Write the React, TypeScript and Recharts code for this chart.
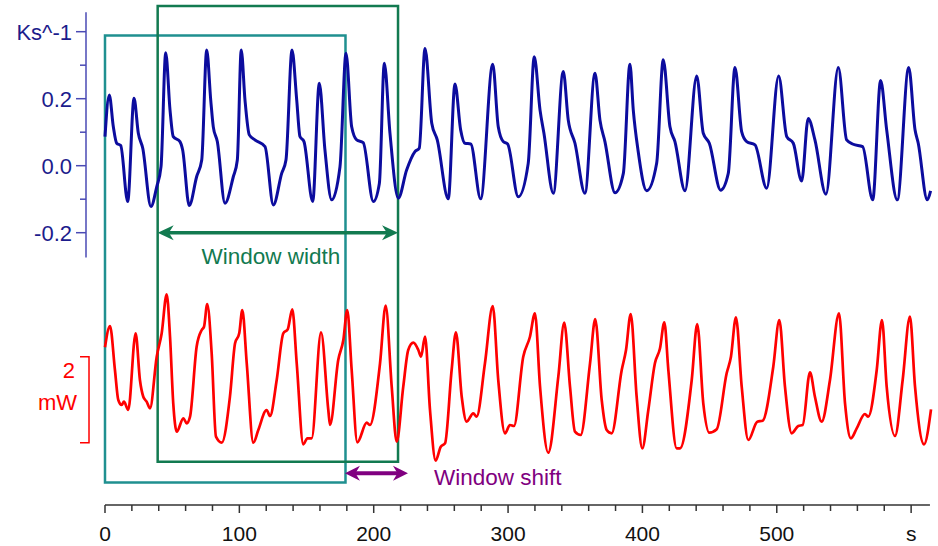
import { LineChart, Line, XAxis, YAxis, ReferenceLine, ReferenceArea } from "recharts";

// temperature signal (Ks^-1), [time s, value]
const BLUE_SERIES: [number, number][] = [
  [0, 0.087], [3.2, 0.211], [6.2, 0.116], [8.7, 0.067], [11.7, 0.06], [16.9, -0.107],
  [21.6, 0.201], [24.8, 0.097], [28.1, 0.052], [34.2, -0.122], [38.5, -0.063], [41.7, -0.003],
  [45.2, 0.337], [48.4, 0.166], [50.8, 0.087], [55.8, 0.072], [57.8, 0.047], [62.7, -0.119],
  [68.2, -0.033], [72.0, 0.017], [75.7, 0.345], [78.7, 0.196], [80.6, 0.116], [83.6, 0.072],
  [89.3, -0.112], [95.5, -0.033], [98.5, 0.017], [101.4, 0.345], [104.2, 0.196], [107.4, 0.092],
  [111.6, 0.077], [119.1, 0.057], [125.3, -0.117], [131.5, -0.023], [134.7, 0.017], [139.2, 0.345],
  [142.7, 0.196], [145.1, 0.087], [148.1, 0.072], [154.6, -0.107], [159.5, 0.246], [163.7, 0.047],
  [168.7, -0.102], [174.9, -0.003], [179.4, 0.336], [183.6, 0.116], [187.3, 0.077], [192.2, 0.069],
  [199.7, -0.107], [204.2, -0.053], [207.9, 0.306], [212.1, 0.097], [218.3, -0.097], [224.5, -0.013],
  [230.7, 0.042], [233.9, 0.052], [238.2, 0.35], [243.2, 0.127], [247.3, 0.077], [255.5, -0.099],
  [260.5, 0.244], [264.7, 0.107], [267.9, 0.067], [272.2, 0.065], [279.6, -0.099], [288.6, 0.303],
  [292.7, 0.116], [296.4, 0.072], [299.7, 0.065], [307.6, -0.093], [315.0, 0.007], [319.5, 0.325],
  [323.8, 0.166], [326.7, 0.097], [333.7, -0.082], [341.1, 0.281], [344.8, 0.136], [349.8, 0.067],
  [357.2, -0.082], [364.7, 0.276], [368.4, 0.136], [372.1, 0.072], [379.6, -0.081], [385.8, -0.023],
  [390.7, 0.303], [393.2, 0.166], [396.7, 0.047], [403.2, -0.075], [410.6, 0.007], [415.5, 0.316],
  [420.5, 0.116], [424.2, 0.072], [431.7, -0.075], [440.4, 0.268], [445.3, 0.097], [449.8, 0.067],
  [458.2, -0.073], [463.9, -0.023], [468.9, 0.293], [473.9, 0.101], [477.6, 0.072], [483.8, 0.062],
  [492.5, -0.067], [501.4, 0.268], [507.4, 0.087], [512.3, 0.067], [518.5, -0.046], [523.4, 0.141],
  [528.4, 0.077], [536.6, -0.085], [545.8, 0.293], [552.0, 0.077], [556.9, 0.064], [563.9, 0.057],
  [571.4, -0.102], [577.3, 0.254], [581.8, 0.107], [589.7, -0.102], [598.2, 0.293], [602.9, 0.107],
  [605.3, 0.067], [612.0, -0.102], [614.5, -0.075],
];

// power signal (mW, arbitrary offset), [time s, value]
const RED_SERIES: [number, number][] = [
  [0, 2.621], [3.7, 3.116], [7.4, 2.093], [9.9, 1.395], [12.4, 1.279], [14.1, 1.356], [17.3, 1.163],
  [22.8, 2.947], [26.0, 1.86], [28.5, 1.472], [31.0, 1.356], [33.5, 1.202], [38.5, 2.402], [42.2, 2.947],
  [45.9, 3.853], [48.4, 2.867], [50.8, 1.319], [53.4, 0.658], [58.3, 0.97], [60.8, 0.853], [63.3, 1.007],
  [68.2, 2.635], [72.0, 3.023], [73.7, 3.1], [76.1, 3.628], [79.4, 2.481], [82.6, 0.542], [86.9, 0.402],
  [93.0, 1.472], [96.8, 2.714], [99.9, 2.947], [102.2, 3.488], [105.5, 2.249], [110.4, 0.402],
  [114.1, 0.698], [120.3, 1.163], [122.8, 1.023], [127.8, 1.86], [132.7, 2.947], [136.0, 3.04],
  [139.4, 3.505], [142.7, 2.249], [147.6, 0.365], [150.6, 0.505], [153.8, 0.505], [160.8, 2.97],
  [166.2, 1.163], [167.5, 0.814], [173.6, 2.326], [177.4, 2.791], [180.3, 3.488], [183.6, 2.093],
  [187.8, 0.412], [194.8, 0.867], [197.2, 0.814], [204.7, 2.249], [208.9, 3.588], [213.4, 1.705],
  [217.1, 0.426], [222.0, 1.705], [225.7, 2.558], [229.5, 2.728], [233.2, 2.558], [235.2, 2.402],
  [238.2, 2.867], [241.9, 1.163], [246.1, -0.016], [249.9, 0.309], [253.1, 0.388], [258.0, 2.093],
  [261.2, 2.97], [265.5, 1.472], [269.2, 0.891], [274.1, 1.086], [276.6, 1.007], [282.8, 2.249],
  [288.6, 3.581], [292.7, 1.86], [297.7, 0.621], [301.4, 0.814], [304.4, 0.791], [311.3, 2.402],
  [316.3, 2.867], [320.0, 3.412], [323.8, 1.705], [329.9, 0.17], [337.4, 1.937], [341.8, 3.193],
  [346.1, 1.705], [349.8, 0.658], [354.0, 0.581], [361.0, 2.249], [364.9, 3.279], [369.7, 1.395],
  [373.4, 0.698], [377.1, 0.621], [384.6, 2.093], [387.8, 2.558], [391.3, 3.395], [395.7, 1.472],
  [399.9, 0.272], [404.4, 1.163], [409.3, 2.249], [413.1, 2.598], [416.3, 3.202], [419.3, 2.093],
  [425.5, 0.272], [428.0, 0.272], [436.7, 1.86], [440.8, 3.163], [445.3, 1.319], [449.8, 0.635],
  [455.3, 0.714], [462.7, 2.016], [465.9, 2.402], [469.6, 3.319], [473.9, 1.705], [478.8, 0.465],
  [485.5, 0.891], [489.5, 0.914], [497.4, 2.17], [501.9, 3.256], [506.1, 1.705], [511.1, 0.621],
  [516.0, 0.791], [519.3, 0.814], [524.7, 2.04], [528.4, 1.472], [533.4, 0.891], [539.6, 1.86],
  [546.3, 3.412], [550.8, 1.319], [555.2, 0.505], [559.5, 0.737], [565.6, 1.07], [568.1, 1.007],
  [574.4, 2.093], [578.3, 3.256], [581.8, 1.705], [588.0, 0.558], [593.7, 1.86], [599.1, 3.333],
  [602.9, 1.705], [609.6, 0.365], [614.8, 1.179],
];

const X_TICKS = [0, 20, 40, 60, 80, 100, 120, 140, 160, 180, 200, 220, 240, 260, 280, 300, 320, 340, 360, 380, 400, 420, 440, 460, 480, 500, 520, 540, 560, 580, 600];
const BLUE_TICKS = [-0.2, -0.1, 0, 0.1, 0.2, 0.3, 0.4];
const BLUE_TICK_LABELS = ["-0.2", "", "0.0", "", "0.2", "", "Ks^-1"];

const FIRST_WINDOW = [0, 179];
const SECOND_WINDOW = [39.2, 218.1];
const SHIFT = [178.6, 225.5];
const SCALE_BAR = [0.4, 2.4]; // 2 mW

const X_DOMAIN = [-14.14, 620];
const BLUE_DOMAIN = [-1.0128, 0.4946];
const RED_DOMAIN = [-1.0465, 10.698];

const FONT = "'Liberation Sans', Arial, sans-serif";
const BLUE = "#0c0c9e";
const RED = "#ff0000";
const TEAL = "#1f9090";
const GREEN = "#127a50";
const PURPLE = "#800080";

const blueData = BLUE_SERIES.map(([t, v]) => ({ t, v }));
const redData = RED_SERIES.map(([t, v]) => ({ t, v }));

const XTick = (props: any) => {
  const { x, y, payload } = props;
  const v = payload.value;
  const major = v % 100 === 0;
  return (
    <g>
      <line x1={x} y1={y} x2={x} y2={y + (major ? 8 : 6)} stroke="#333" strokeWidth={1.5} />
      {major && (
        <text x={x} y={y + 36} textAnchor="middle" fontSize={21} fill="#111" fontFamily={FONT}>
          {v === 600 ? "s" : v}
        </text>
      )}
    </g>
  );
};

const BlueTick = (props: any) => {
  const { x, y, payload } = props;
  const i = BLUE_TICKS.indexOf(payload.value);
  const label = BLUE_TICK_LABELS[i];
  return (
    <g>
      <line x1={x - (label ? 10 : 6)} y1={y} x2={x} y2={y} stroke="#4a4ab4" strokeWidth={1.5} />
      {label && (
        <text x={x - 14} y={y + 8} textAnchor="end" fontSize={22} fill="#1c1c8c" fontFamily={FONT}>
          {label}
        </text>
      )}
    </g>
  );
};

const arrow = (color: string, text: string, where: "below" | "right", h: number, w: number, sw: number) => (p: any) => {
  const { x1, y1, x2, y2 } = p;
  const left = Math.min(x1, x2);
  const right = Math.max(x1, x2);
  const y = y1;
  return (
    <g>
      <line x1={left + 8} y1={y} x2={right - 8} y2={y2} stroke={color} strokeWidth={sw} />
      <path d={`M${left},${y} L${left + h},${y - w} L${left + h * 0.7},${y} L${left + h},${y + w} Z`} fill={color} />
      <path d={`M${right},${y} L${right - h},${y - w} L${right - h * 0.7},${y} L${right - h},${y + w} Z`} fill={color} />
      {where === "below" ? (
        <text x={(left + right) / 2 - 7} y={y + 31.5} textAnchor="middle" fontSize={22.5} fill={color} fontFamily={FONT}>
          {text}
        </text>
      ) : (
        <text x={right + 26} y={y + 11.5} textAnchor="start" fontSize={22.5} fill={color} fontFamily={FONT}>
          {text}
        </text>
      )}
    </g>
  );
};

const scaleBar = (p: any) => {
  const { x1, y1, y2 } = p;
  const top = Math.min(y1, y2);
  const bottom = Math.max(y1, y2);
  return (
    <g>
      <path d={`M${x1 - 9},${top} H${x1} V${bottom} H${x1 - 9}`} fill="none" stroke={RED} strokeWidth={1.5} />
      <text x={x1 - 14} y={top + 21} textAnchor="end" fontSize={22} fill={RED} fontFamily={FONT}>2</text>
      <text x={x1 - 12} y={top + 53} textAnchor="end" fontSize={22} fill={RED} fontFamily={FONT}>mW</text>
    </g>
  );
};

export default function App() {
  return (
    <div style={{ position: "absolute", left: 0, top: 0, background: "#fff" }}>
      <LineChart width={938} height={546} margin={{ top: 0, right: 0, bottom: 0, left: 0 }}>
        <XAxis
          type="number"
          dataKey="t"
          domain={X_DOMAIN}
          allowDataOverflow
          ticks={X_TICKS}
          interval={0}
          axisLine={false}
          tickLine={false}
          tickSize={0}
          tickMargin={0}
          height={41}
          tick={<XTick />}
        />
        <YAxis
          yAxisId="blue"
          type="number"
          domain={BLUE_DOMAIN}
          allowDataOverflow
          ticks={BLUE_TICKS}
          interval={0}
          width={86}
          axisLine={false}
          tickLine={false}
          tickSize={0}
          tickMargin={0}
          tick={<BlueTick />}
        />
        <YAxis yAxisId="red" type="number" hide domain={RED_DOMAIN} allowDataOverflow />

        {/* axes lines */}
        <ReferenceLine yAxisId="blue" ifOverflow="visible" stroke="#4a4ab4" strokeWidth={1.5}
          segment={[{ x: X_DOMAIN[0], y: 0.458 }, { x: X_DOMAIN[0], y: -0.274 }]} />
        <ReferenceLine yAxisId="blue" ifOverflow="visible" stroke="#333" strokeWidth={1.5}
          segment={[{ x: 0, y: -1.0128 }, { x: 614, y: -1.0128 }]} />

        {/* analysis windows */}
        <ReferenceArea yAxisId="blue" ifOverflow="visible" x1={FIRST_WINDOW[0]} x2={FIRST_WINDOW[1]}
          y1={-0.946} y2={0.389} fill="none" stroke={TEAL} strokeWidth={2.5} />
        <ReferenceArea yAxisId="blue" ifOverflow="visible" x1={SECOND_WINDOW[0]} x2={SECOND_WINDOW[1]}
          y1={-0.8836} y2={0.4767} fill="none" stroke={GREEN} strokeWidth={2.5} />

        <Line yAxisId="blue" data={blueData} dataKey="v" type="monotone" stroke={BLUE} strokeWidth={3}
          dot={false} activeDot={false} isAnimationActive={false} />
        <Line yAxisId="red" data={redData} dataKey="v" type="monotone" stroke={RED} strokeWidth={2.7}
          dot={false} activeDot={false} isAnimationActive={false} />

        <ReferenceLine yAxisId="blue" ifOverflow="visible"
          segment={[{ x: SECOND_WINDOW[0], y: -0.2 }, { x: SECOND_WINDOW[1], y: -0.2 }]}
          shape={arrow(GREEN, "Window width", "below", 16, 7.5, 3.5)} />
        <ReferenceLine yAxisId="blue" ifOverflow="visible"
          segment={[{ x: SHIFT[0], y: -0.918 }, { x: SHIFT[1], y: -0.918 }]}
          shape={arrow(PURPLE, "Window shift", "right", 15, 7.5, 4)} />
        <ReferenceLine yAxisId="red" ifOverflow="visible"
          segment={[{ x: -11.9, y: SCALE_BAR[0] }, { x: -11.9, y: SCALE_BAR[1] }]}
          shape={scaleBar} />
      </LineChart>
    </div>
  );
}
